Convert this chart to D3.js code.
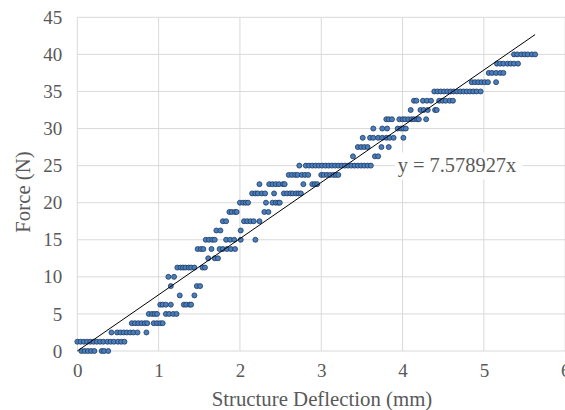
<!DOCTYPE html>
<html>
<head>
<meta charset="utf-8">
<script src="https://cdn.jsdelivr.net/npm/d3@7"></script>
<style>
  html, body { margin: 0; padding: 0; background: #ffffff; }
  svg { display: block; }
  text { font-family: "Liberation Serif", "Times New Roman", serif; fill: #595959; }
</style>
</head>
<body>
<svg id="chart" width="565" height="410"></svg>
<script>
// ---- data ----
const xTicks = [0, 1, 2, 3, 4, 5, 6];
const yTicks = [0, 5, 10, 15, 20, 25, 30, 35, 40, 45];
const slope = 7.578927;
const equationLabel = "y = 7.578927x";
const xTitle = "Structure Deflection (mm)";
const yTitle = "Force (N)";

// force levels (N) and the deflections (mm) measured at each level
const forceLevels = [0, 1.25, 2.5, 3.75, 5, 6.25, 7.5, 8.75, 10, 11.25, 12.5, 13.75,
  15, 16.25, 17.5, 18.75, 20, 21.25, 22.5, 23.75, 25, 26.25, 27.5, 28.75, 30,
  31.25, 32.5, 33.75, 35, 36.25, 37.5, 38.75, 40];
const deflections = [
  [0.05, 0.09, 0.13, 0.17, 0.21, 0.30, 0.33, 0.38],
  [0, 0.04, 0.08, 0.12, 0.16, 0.20, 0.24, 0.28, 0.32, 0.37, 0.41, 0.45, 0.50, 0.54, 0.58],
  [0.42, 0.49, 0.53, 0.57, 0.61, 0.65, 0.69, 0.74, 0.85],
  [0.67, 0.71, 0.75, 0.79, 0.83, 0.86, 0.94, 0.98, 1.02, 1.05],
  [0.88, 0.92, 0.95, 0.98, 1.09, 1.13, 1.18, 1.22],
  [1.02, 1.05, 1.09, 1.15, 1.31, 1.34, 1.38, 1.40],
  [1.26, 1.44],
  [1.15, 1.47, 1.51],
  [1.12, 1.19],
  [1.23, 1.27, 1.30, 1.33, 1.37, 1.40, 1.44, 1.54, 1.57],
  [1.61, 1.69, 1.73],
  [1.48, 1.52, 1.55, 1.65, 1.75, 1.79, 1.84, 1.89, 1.94],
  [1.58, 1.62, 1.66, 1.69, 1.83, 1.88, 1.93, 2.01, 2.19],
  [1.71, 1.76, 2.01],
  [1.79, 1.83, 2.05, 2.09, 2.13, 2.17, 2.24],
  [1.87, 1.90, 1.94, 1.96, 2.30, 2.35],
  [2.00, 2.04, 2.07, 2.10, 2.32, 2.40, 2.44, 2.47, 2.49],
  [2.15, 2.19, 2.22, 2.27, 2.31, 2.42, 2.54, 2.58, 2.62, 2.65, 2.69, 2.72, 2.75],
  [2.24, 2.36, 2.40, 2.44, 2.48, 2.53, 2.55, 2.78, 2.89, 2.92, 2.95],
  [2.60, 2.64, 2.68, 2.71, 2.76, 2.80, 2.84, 3.00, 3.03, 3.07, 3.11, 3.15, 3.18, 3.21],
  [2.73, 2.81, 2.85, 2.89, 2.93, 2.97, 3.01, 3.05, 3.09, 3.13, 3.17, 3.21, 3.25,
   3.29, 3.33, 3.37, 3.41, 3.45, 3.49, 3.53, 3.57, 3.61],
  [3.39, 3.66, 3.70],
  [3.45, 3.49, 3.53, 3.57, 3.74, 3.83],
  [3.51, 3.60, 3.64, 3.70, 3.75, 3.80, 3.84, 3.89, 4.01],
  [3.64, 3.75, 3.81, 3.94, 3.98, 4.01, 4.04],
  [3.80, 3.83, 3.87, 3.96, 4.00, 4.03, 4.07, 4.11, 4.14, 4.18, 4.20, 4.29],
  [4.10, 4.22, 4.26, 4.31, 4.40, 4.42],
  [4.14, 4.17, 4.25, 4.30, 4.35, 4.45, 4.49, 4.53, 4.58, 4.62],
  [4.39, 4.43, 4.47, 4.51, 4.55, 4.59, 4.63, 4.67, 4.71, 4.75, 4.79, 4.83, 4.87, 4.91, 4.96],
  [4.85, 4.89, 4.93, 4.97, 5.01, 5.05, 5.15],
  [5.06, 5.10, 5.15, 5.20, 5.24],
  [5.16, 5.20, 5.24, 5.29, 5.33, 5.37, 5.42],
  [5.37, 5.41, 5.46, 5.50, 5.54, 5.59, 5.63]
];

// ---- build point table ----
const points = [];
forceLevels.forEach((f, i) => deflections[i].forEach(d => points.push({x: d, y: f})));

// ---- layout ----
const svg = d3.select("#chart");
const plot = {left: 77.3, right: 565.2, top: 17.3, bottom: 351};
const x = d3.scaleLinear().domain([0, 6]).range([plot.left, plot.right]);
const y = d3.scaleLinear().domain([0, 45]).range([plot.bottom, plot.top]);
const gridColor = "#d9d9d9";

// gridlines
svg.append("g").selectAll("line.h").data(yTicks).join("line")
  .attr("x1", plot.left).attr("x2", plot.right)
  .attr("y1", d => y(d)).attr("y2", d => y(d))
  .attr("stroke", gridColor).attr("stroke-width", 1);
svg.append("g").selectAll("line.v").data(xTicks).join("line")
  .attr("x1", d => x(d)).attr("x2", d => x(d))
  .attr("y1", plot.top).attr("y2", plot.bottom)
  .attr("stroke", gridColor).attr("stroke-width", 1);

// tick labels via axes
const yAxis = svg.append("g").attr("transform", `translate(${plot.left},0)`)
  .call(d3.axisLeft(y).tickValues(yTicks).tickSize(0).tickPadding(15).tickFormat(d3.format("d")));
yAxis.select(".domain").remove();
yAxis.selectAll("text").style("font-family", '"Liberation Serif", serif')
  .style("font-size", "19px").attr("fill", "#595959");

const xAxis = svg.append("g").attr("transform", `translate(0,${plot.bottom})`)
  .call(d3.axisBottom(x).tickValues(xTicks).tickSize(0).tickPadding(13).tickFormat(d3.format("d")));
xAxis.select(".domain").remove();
xAxis.selectAll("text").style("font-family", '"Liberation Serif", serif')
  .style("font-size", "19px").attr("fill", "#595959");

// points
svg.append("g").selectAll("circle").data(points).join("circle")
  .attr("cx", d => x(d.x)).attr("cy", d => y(d.y)).attr("r", 2.5)
  .attr("fill", "#4a7ebb").attr("stroke", "#1f3b66").attr("stroke-width", 0.8);

// trendline through origin
const xMax = d3.max(points, d => d.x);
svg.append("line")
  .attr("x1", x(0)).attr("y1", y(0))
  .attr("x2", x(xMax)).attr("y2", y(slope * xMax))
  .attr("stroke", "#000").attr("stroke-width", 1);

// equation label with white background
const eq = svg.append("g").attr("transform", `translate(${x(3.94)},${y(24.2)})`);
eq.append("rect").attr("x", -3).attr("y", -19).attr("width", 128).attr("height", 27).attr("fill", "#fff");
eq.append("text").attr("x", 0).attr("y", 0).style("font-size", "20.4px").text(equationLabel);

// axis titles
svg.append("text").attr("x", 322).attr("y", 406)
  .attr("text-anchor", "middle").style("font-size", "20.8px").text(xTitle);
svg.append("text").attr("transform", `translate(30,192) rotate(-90)`)
  .attr("text-anchor", "middle").style("font-size", "20.8px").text(yTitle);
</script>
</body>
</html>
